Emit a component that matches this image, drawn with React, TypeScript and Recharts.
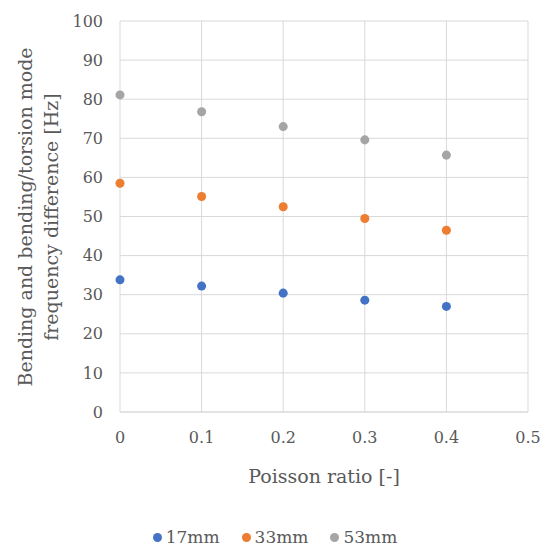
import { ScatterChart, Scatter, XAxis, YAxis, ZAxis, CartesianGrid, Legend } from 'recharts'

const poisson = [0, 0.1, 0.2, 0.3, 0.4]
const mm17 = [33.8, 32.2, 30.4, 28.6, 27.0]
const mm33 = [58.5, 55.1, 52.5, 49.5, 46.5]
const mm53 = [81.1, 76.8, 73.0, 69.6, 65.7]
const xTicks = [0, 0.1, 0.2, 0.3, 0.4, 0.5]
const yTicks = [0, 10, 20, 30, 40, 50, 60, 70, 80, 90, 100]

const series = [
  { name: '17mm', values: mm17, color: '#4472C4' },
  { name: '33mm', values: mm33, color: '#ED7D31' },
  { name: '53mm', values: mm53, color: '#A5A5A5' },
]

const FONT = '"DejaVu Serif", serif'
const TEXT = '#595959'

const YTitle = () => (
  <g fill={TEXT} fontFamily={FONT} fontSize={19}>
    <text x={25} y={217} textAnchor="middle" dominantBaseline="central" transform="rotate(-90, 25, 217)">
      Bending and bending/torsion mode
    </text>
    <text x={51} y={217} textAnchor="middle" dominantBaseline="central" transform="rotate(-90, 51, 217)">
      frequency difference [Hz]
    </text>
  </g>
)

const XTitle = () => (
  <text x={324} y={476} textAnchor="middle" dominantBaseline="central" fill={TEXT} fontFamily={FONT} fontSize={19}>
    Poisson ratio [-]
  </text>
)

const LegendContent = () => (
  <div style={{ display: 'flex', justifyContent: 'center', gap: 22, fontFamily: FONT, fontSize: 17, color: TEXT, lineHeight: '20px' }}>
    {series.map((s) => (
      <div key={s.name} style={{ display: 'flex', alignItems: 'center', gap: 4 }}>
        <span style={{ width: 9, height: 9, borderRadius: 5, background: s.color, display: 'inline-block' }} />
        <span>{s.name}</span>
      </div>
    ))}
  </div>
)

export default function App() {
  return (
    <div style={{ position: 'fixed', left: 0, top: 0, background: '#fff' }}>
      <ScatterChart width={550} height={553} margin={{ top: 21, right: 22, left: 0, bottom: 91 }}>
        <CartesianGrid stroke="#D9D9D9" strokeWidth={1} />
        <XAxis
          type="number"
          dataKey="x"
          height={30}
          domain={[0, 0.5]}
          ticks={xTicks}
          tick={{ fill: TEXT, fontSize: 16, fontFamily: FONT }}
          tickLine={false}
          tickMargin={14}
          axisLine={{ stroke: '#D9D9D9' }}
          label={{ content: () => <XTitle /> }}
        />
        <YAxis
          type="number"
          dataKey="y"
          width={120}
          domain={[0, 100]}
          ticks={yTicks}
          tick={{ fill: TEXT, fontSize: 16, fontFamily: FONT }}
          tickLine={false}
          tickMargin={11}
          axisLine={false}
          label={{ content: () => <YTitle /> }}
        />
        <ZAxis range={[95, 95]} />
        <Legend
          verticalAlign="bottom"
          wrapperStyle={{ left: 0, width: 550, bottom: 6 }}
          content={() => <LegendContent />}
        />
        {series.map((s) => (
          <Scatter
            key={s.name}
            name={s.name}
            data={poisson.map((x, i) => ({ x, y: s.values[i] }))}
            fill={s.color}
            isAnimationActive={false}
          />
        ))}
      </ScatterChart>
    </div>
  )
}
